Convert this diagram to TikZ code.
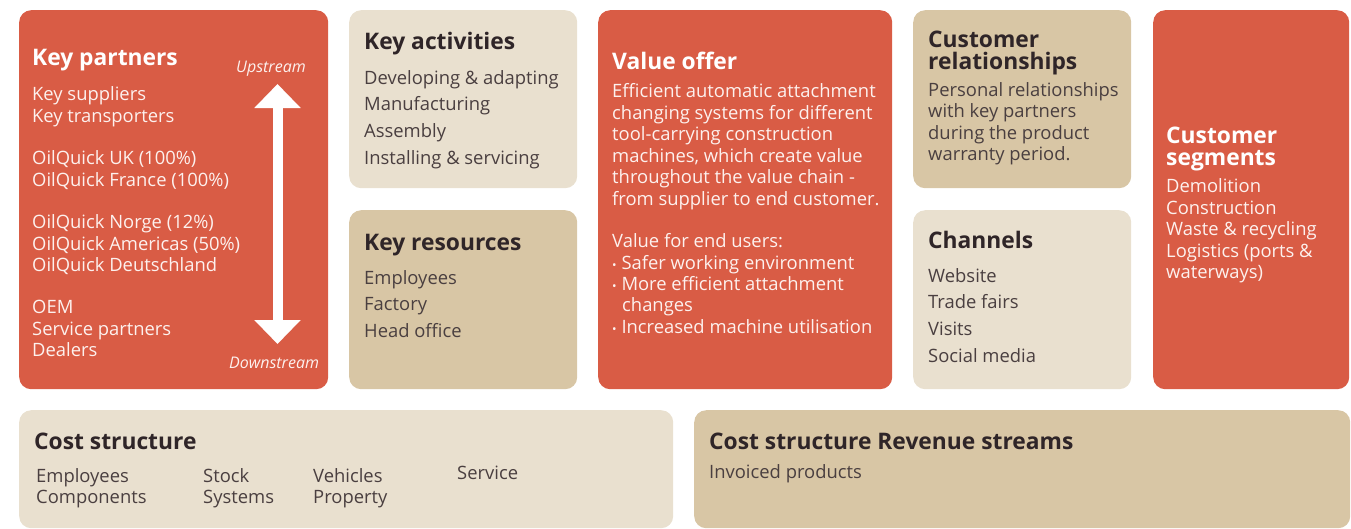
\documentclass[tikz,border=0pt]{standalone}
\usepackage{fontspec}
\setmainfont{Open Sans}
\usetikzlibrary{arrows.meta}
\definecolor{cred}{HTML}{D95C45}
\definecolor{clight}{HTML}{E9E0CF}
\definecolor{ctan}{HTML}{D8C6A5}
\definecolor{cdark}{HTML}{2F2528}
\definecolor{cbody}{HTML}{4A3F40}
\definecolor{cwhite}{HTML}{FDF1EE}
\newcommand\bul{{\fontsize{12}{12}\selectfont•}}
\tikzset{
  card/.style={rounded corners=12pt, anchor=north west, inner sep=0pt, draw=none},
  txt/.style={anchor=base west, inner sep=0pt},
  tw/.style={txt, text=white, font=\fontsize{22.8}{24}\selectfont\bfseries},
  td/.style={txt, text=cdark, font=\fontsize{22.8}{24}\selectfont\bfseries},
  bw/.style={txt, text=cwhite, font=\fontsize{18.4}{20}\selectfont},
  bd/.style={txt, text=cbody, font=\fontsize{18.4}{20}\selectfont},
  iw/.style={txt, text=cwhite, font=\fontsize{16}{18}\selectfont\itshape},
}
\begin{document}
\begin{tikzpicture}[x=1pt,y=-1pt]
\useasboundingbox (0,0) rectangle (1351,528);
% cards
\node[card, fill=cred,   minimum width=309, minimum height=379] (kp) at (19,10) {};
\node[card, fill=clight, minimum width=228, minimum height=178] (ka) at (349,10) {};
\node[card, fill=ctan,   minimum width=228, minimum height=179] (kr) at (349,210) {};
\node[card, fill=cred,   minimum width=294, minimum height=379] (vo) at (598,10) {};
\node[card, fill=ctan,   minimum width=218, minimum height=178] (cr) at (913,10) {};
\node[card, fill=clight, minimum width=218, minimum height=179] (ch) at (913,210) {};
\node[card, fill=cred,   minimum width=196, minimum height=379] (cs) at (1153,10) {};
\node[card, fill=clight, minimum width=654, minimum height=118] (co) at (19,410) {};
\node[card, fill=ctan,   minimum width=656, minimum height=118] (rv) at (694,410) {};
% Key partners
\node[tw] (kpt) at (32,65) {Key partners};
\node[bw] (kp1) at (32,100.5) {Key suppliers};
\node[bw] (kp2) at (32,122.5) {Key transporters};
\node[bw] (kp3) at (32,164.5) {OilQuick UK (100\%)};
\node[bw] (kp4) at (32,186.5) {OilQuick France (100\%)};
\node[bw] (kp5) at (32,228.5) {OilQuick Norge (12\%)};
\node[bw] (kp6) at (32,250.5) {OilQuick Americas (50\%)};
\node[bw] (kp7) at (32,271.5) {OilQuick Deutschland};
\node[bw] (kp8) at (32,313.5) {OEM};
\node[bw] (kp9) at (32,335.5) {Service partners};
\node[bw] (kp10) at (32,356.5) {Dealers};
\node[iw] (up) at (236,72) {Upstream};
\node[iw] (down) at (229,368) {Downstream};
\coordinate (atop) at (277.5,84);
\coordinate (abot) at (277.5,344);
\draw[white, line width=10pt, {Triangle[width=45pt,length=24pt]}-{Triangle[width=45pt,length=24pt]}] (atop) -- (abot);
% Key activities
\node[td] (kat) at (364,49) {Key activities};
\node[bd] (ka1) at (364,84.5) {Developing \& adapting};
\node[bd] (ka2) at (364,110.5) {Manufacturing};
\node[bd] (ka3) at (364,137.5) {Assembly};
\node[bd] (ka4) at (364,164.5) {Installing \& servicing};
% Key resources
\node[td] (krt) at (364,250) {Key resources};
\node[bd] (kr1) at (364,284.5) {Employees};
\node[bd] (kr2) at (364,310.5) {Factory};
\node[bd] (kr3) at (364,337.5) {Head office};
% Value offer
\node[tw] (vot) at (612,69) {Value offer};
\node[bw] (vo1) at (612,97.5) {Efficient automatic attachment};
\node[bw] (vo2) at (612,119.5) {changing systems for different};
\node[bw] (vo3) at (612,140.5) {tool-carrying construction};
\node[bw] (vo4) at (612,162.5) {machines, which create value};
\node[bw] (vo5) at (612,183.5) {throughout the value chain -};
\node[bw] (vo6) at (612,205.5) {from supplier to end customer.};
\node[bw] (vo7) at (612,247.5) {Value for end users:};
\node[bw] (vo8) at (612,269.5) {\bul\ Safer working environment};
\node[bw] (vo9) at (612,290.5) {\bul\ More efficient attachment};
\node[bw] (vo10) at (622,311.5) {changes};
\node[bw] (vo11) at (612,333.5) {\bul\ Increased machine utilisation};
% Customer relationships
\node[td] (crt1) at (928,47) {Customer};
\node[td] (crt2) at (928,69) {relationships};
\node[bd] (cr1) at (928,96.5) {Personal relationships};
\node[bd] (cr2) at (928,117.5) {with key partners};
\node[bd] (cr3) at (928,139.5) {during the product};
\node[bd] (cr4) at (928,160.5) {warranty period.};
% Channels
\node[td] (cht) at (928,248) {Channels};
\node[bd] (ch1) at (928,282.5) {Website};
\node[bd] (ch2) at (928,308.5) {Trade fairs};
\node[bd] (ch3) at (928,335.5) {Visits};
\node[bd] (ch4) at (928,362.5) {Social media};
% Customer segments
\node[tw] (cst1) at (1166,143) {Customer};
\node[tw] (cst2) at (1166,165) {segments};
\node[bw] (cs1) at (1166,192.5) {Demolition};
\node[bw] (cs2) at (1166,214.5) {Construction};
\node[bw] (cs3) at (1166,235.5) {Waste \& recycling};
\node[bw] (cs4) at (1166,257.5) {Logistics (ports \&};
\node[bw] (cs5) at (1166,278.5) {waterways)};
% Cost structure
\node[td] (cot) at (34,449) {Cost structure};
\node[bd] (co1) at (36,482.5) {Employees};
\node[bd] (co2) at (36,503.5) {Components};
\node[bd] (co3) at (203,482.5) {Stock};
\node[bd] (co4) at (203,503.5) {Systems};
\node[bd] (co5) at (313,482.5) {Vehicles};
\node[bd] (co6) at (313,503.5) {Property};
\node[bd] (co7) at (457,479.5) {Service};
% Revenue
\node[td] (rvt) at (709,449) {Cost structure Revenue streams};
\node[bd] (rv1) at (709,478.5) {Invoiced products};
\end{tikzpicture}
\end{document}
